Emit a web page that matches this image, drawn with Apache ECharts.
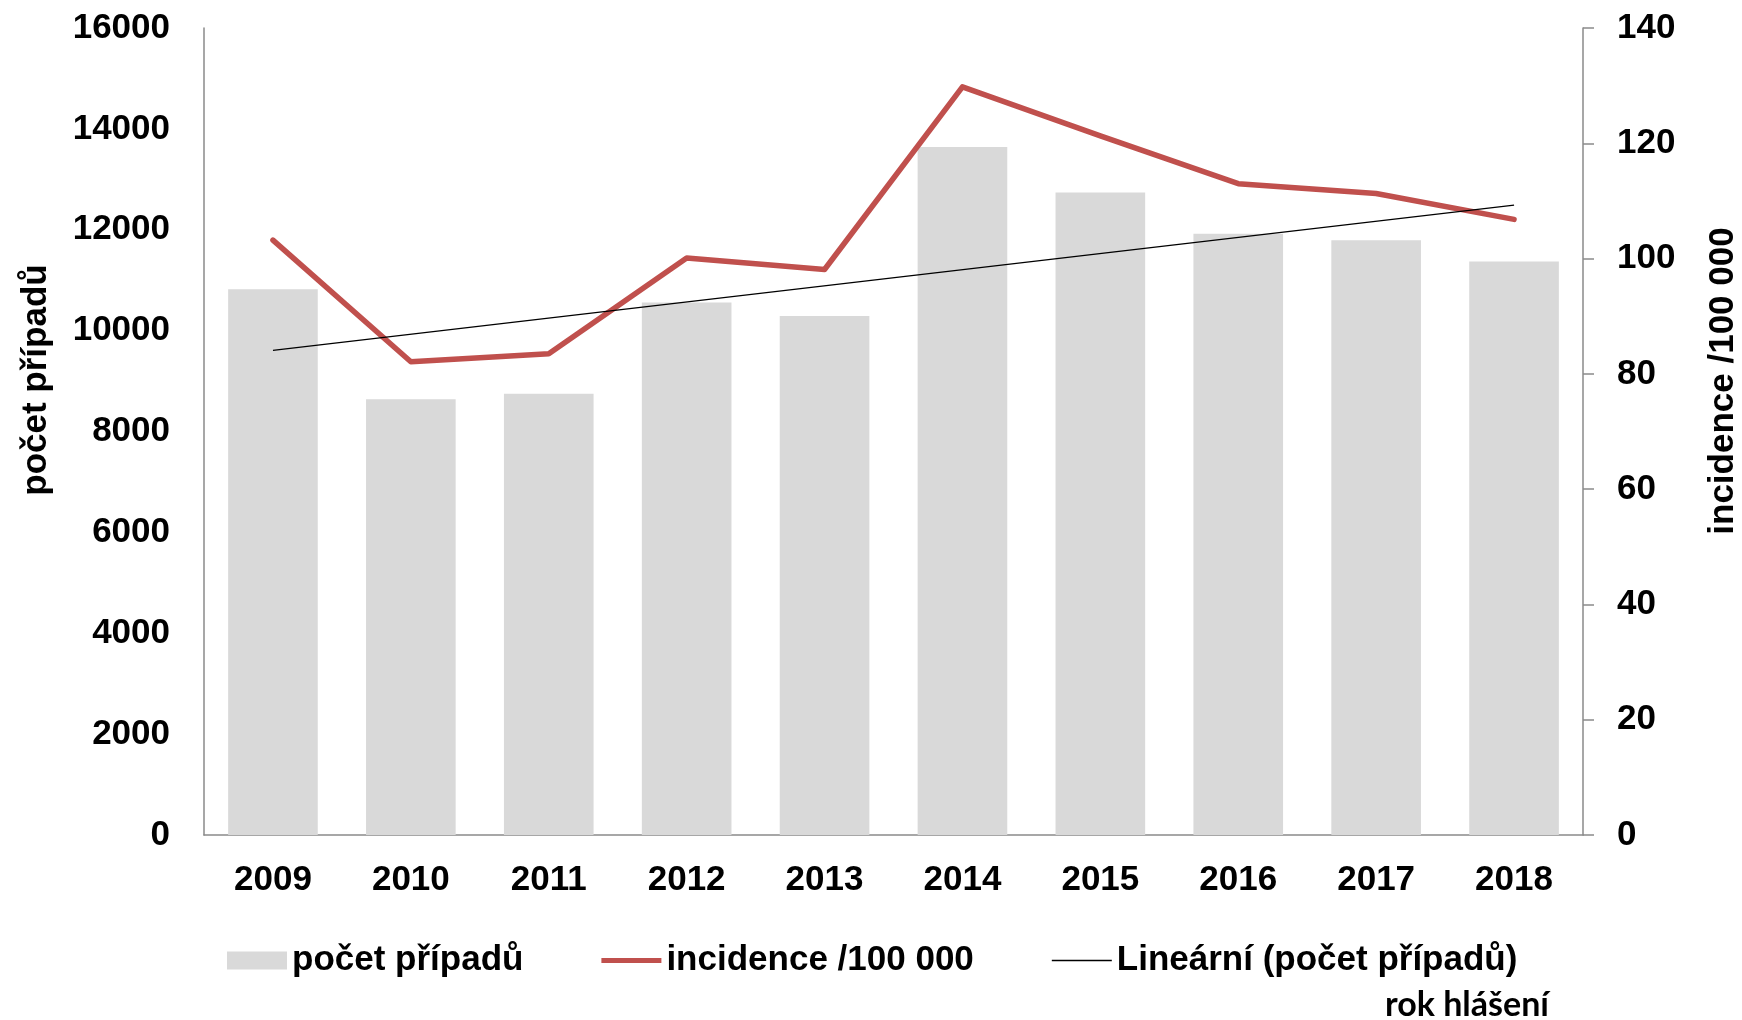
<!DOCTYPE html>
<html>
<head>
<meta charset="utf-8">
<title>počet případů a incidence</title>
<script src="https://cdn.jsdelivr.net/npm/echarts@6/dist/echarts.min.js"></script>
<style>
  html, body {
    margin: 0;
    padding: 0;
    background: #fff;
  }
  #chart {
    width: 1742px;
    height: 1020px;
  }
</style>
</head>
<body>
<div id="chart"></div>
<script>
// data
const years = ['2009', '2010', '2011', '2012', '2013', '2014', '2015', '2016', '2017', '2018']
const pocetPripadu = [10820, 8640, 8750, 10560, 10290, 13640, 12740, 11920, 11790, 11370]
const incidence = [103.2, 82.1, 83.5, 100.1, 98.1, 129.8, 121.3, 113.0, 111.3, 106.8]
// trend line, only its two end points
const trend = [9610, null, null, null, null, null, null, null, null, 12490]
const leftTicks = { min: 0, max: 16000, interval: 2000 }
const rightTicks = { min: 0, max: 140, interval: 20 }

const font = '"Liberation Sans", Arial, sans-serif'

const chart = echarts.init(document.getElementById('chart'))

let option = {
  animation: false,
  textStyle: { fontFamily: font },
  grid: {
    left: 204,
    right: 159,
    top: 28,
    bottom: 185
  },
  legend: {
    left: 222,
    top: 938,
    itemWidth: 60,
    itemHeight: 18,
    itemGap: 78,
    textStyle: {
      fontFamily: font,
      fontSize: 35,
      fontWeight: 'bold',
      color: '#000'
    },
    data: [
      { name: 'počet případů', icon: 'rect' },
      { name: 'incidence /100 000', icon: 'path://M0,0 L60,0 L60,5 L0,5 Z' },
      { name: 'Lineární (počet případů)', icon: 'path://M0,0 L60,0 L60,1.4 L0,1.4 Z' }
    ]
  },
  xAxis: {
    type: 'category',
    data: years,
    axisLine: { lineStyle: { color: '#8a8a8a', width: 1.5 } },
    axisTick: { show: false },
    axisLabel: {
      margin: 28,
      fontSize: 35,
      fontWeight: 'bold',
      color: '#000',
      fontFamily: font
    }
  },
  yAxis: [
    {
      type: 'value',
      min: leftTicks.min,
      max: leftTicks.max,
      interval: leftTicks.interval,
      splitLine: { show: false },
      axisLine: { show: true, lineStyle: { color: '#8a8a8a', width: 1.5 } },
      axisTick: { show: false },
      axisLabel: {
        margin: 34,
        fontSize: 35,
        fontWeight: 'bold',
        color: '#000',
        fontFamily: font,
        formatter: v => String(v)
      }
    },
    {
      type: 'value',
      position: 'right',
      min: rightTicks.min,
      max: rightTicks.max,
      interval: rightTicks.interval,
      splitLine: { show: false },
      axisLine: { show: true, lineStyle: { color: '#8a8a8a', width: 1.5 } },
      axisTick: { show: true, length: 11, lineStyle: { color: '#8a8a8a', width: 1.5 } },
      axisLabel: {
        margin: 34,
        fontSize: 35,
        fontWeight: 'bold',
        color: '#000',
        fontFamily: font
      }
    }
  ],
  graphic: [
    {
      type: 'text',
      x: 36,
      y: 380,
      rotation: Math.PI / 2,
      style: {
        text: 'počet případů',
        font: 'bold 35px ' + font,
        fill: '#000',
        align: 'center',
        verticalAlign: 'middle'
      }
    },
    {
      type: 'text',
      x: 1723,
      y: 381,
      rotation: Math.PI / 2,
      style: {
        text: 'incidence /100 000',
        font: 'bold 35px ' + font,
        fill: '#000',
        align: 'center',
        verticalAlign: 'middle'
      }
    },
    {
      type: 'text',
      x: 1467,
      y: 1005,
      style: {
        text: 'rok hlášení',
        font: 'bold 34px Lato, "Open Sans", sans-serif',
        fill: '#000',
        align: 'center',
        verticalAlign: 'middle'
      }
    }
  ],
  series: [
    {
      name: 'počet případů',
      type: 'bar',
      data: pocetPripadu,
      barCategoryGap: '35%',
      itemStyle: { color: '#d9d9d9' }
    },
    {
      name: 'incidence /100 000',
      type: 'line',
      yAxisIndex: 1,
      data: incidence,
      symbol: 'none',
      lineStyle: { color: '#c0504d', width: 5.5, join: 'round', cap: 'round' },
      itemStyle: { color: '#c0504d' }
    },
    {
      name: 'Lineární (počet případů)',
      type: 'line',
      data: trend,
      connectNulls: true,
      symbol: 'none',
      lineStyle: { color: '#000', width: 1.2 },
      itemStyle: { color: '#000' }
    }
  ]
}

chart.setOption(option)
</script>
</body>
</html>
